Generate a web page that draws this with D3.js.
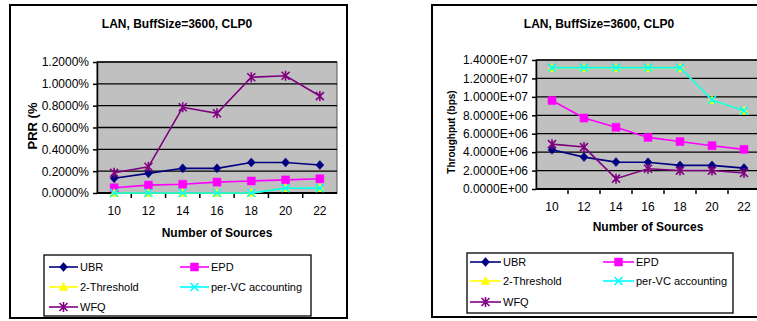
<!DOCTYPE html>
<html>
<head>
<meta charset="utf-8">
<script src="https://cdn.jsdelivr.net/npm/d3@7"></script>
<style>
  body { margin: 0; background: #fff; }
  svg { display: block; font-family: Arial, "Liberation Sans", sans-serif; }
</style>
</head>
<body>
<div id="chart-area"></div>
<script>
// Data
var sources = [10, 12, 14, 16, 18, 20, 22];
var seriesNames = ["UBR", "EPD", "2-Threshold", "per-VC accounting", "WFQ"];

// PRR (%) panel
var prrUBR   = [0.135, 0.18, 0.226, 0.226, 0.28, 0.28, 0.256];
var prrEPD   = [0.048, 0.072, 0.08, 0.10, 0.11, 0.12, 0.13];
var prr2Thr  = [0, 0, 0, 0, 0, 0.045, 0.045];
var prrPerVC = [0, 0, 0, 0, 0, 0.045, 0.045];
var prrWFQ   = [0.186, 0.24, 0.785, 0.73, 1.06, 1.074, 0.888];
var prrTicks = ["0.0000%", "0.2000%", "0.4000%", "0.6000%", "0.8000%", "1.0000%", "1.2000%"];

// Throughput (bps) panel
var thrUBR   = [4.25e6, 3.46e6, 2.92e6, 2.9e6, 2.56e6, 2.56e6, 2.27e6];
var thrEPD   = [9.6e6, 7.7e6, 6.7e6, 5.6e6, 5.15e6, 4.7e6, 4.3e6];
var thr2Thr  = [13.17e6, 13.17e6, 13.17e6, 13.17e6, 13.17e6, 9.67e6, 8.5e6];
var thrPerVC = [13.17e6, 13.17e6, 13.17e6, 13.17e6, 13.17e6, 9.67e6, 8.5e6];
var thrWFQ   = [4.87e6, 4.55e6, 1.12e6, 2.2e6, 2.0e6, 2.0e6, 1.73e6];
var thrTicks = ["0.0000E+00", "2.0000E+06", "4.0000E+06", "6.0000E+06", "8.0000E+06",
                "1.0000E+07", "1.2000E+07", "1.4000E+07"];

var colors = ["#000080", "#ff00ff", "#ffff00", "#00ffff", "#800080"];
var markers = ["diamond", "square", "triangle", "cross", "star"];

var svg = d3.select("#chart-area")
    .append("svg")
    .attr("width", 757)
    .attr("height", 321);

function markerPath(type) {
    if (type == "diamond") return "M0,-4.5L4,0L0,4.5L-4,0Z";
    if (type == "square") return "M-4,-4H4V4H-4Z";
    if (type == "triangle") return "M0,-4.5L4.5,3.5H-4.5Z";
    if (type == "cross") return "M-4,-4L4,4M4,-4L-4,4";
    return "M-4,-4L4,4M4,-4L-4,4M0,-5V5";
}

function drawPanel(cfg) {
    var box = svg.append("g");

    // outer chart frame
    box.append("rect")
        .attr("x", cfg.frame[0]).attr("y", cfg.frame[1])
        .attr("width", cfg.frame[2]).attr("height", cfg.frame[3])
        .attr("fill", "#fff").attr("stroke", "#000").attr("stroke-width", 2);

    box.append("text")
        .attr("x", cfg.titleX).attr("y", 28)
        .attr("text-anchor", "middle")
        .attr("font-size", "12px").attr("font-weight", "bold")
        .text("LAN, BuffSize=3600, CLP0");

    var p = cfg.plot;
    var x = d3.scaleBand().domain(sources).range([p.left, p.right]);
    var y = d3.scaleLinear().domain([0, cfg.yMax]).range([p.bottom, p.top]);

    box.append("rect")
        .attr("x", p.left).attr("y", p.top)
        .attr("width", p.right - p.left).attr("height", p.bottom - p.top)
        .attr("fill", "#c0c0c0").attr("stroke", "#555").attr("stroke-width", 1);

    var tickVals = cfg.ticks.map(function (d, i) { return i * cfg.yStep; });

    // gridlines
    box.selectAll(".grid")
        .data(tickVals.slice(1))
        .enter().append("line")
        .attr("x1", p.left).attr("x2", p.right)
        .attr("y1", function (d) { return y(d); })
        .attr("y2", function (d) { return y(d); })
        .attr("stroke", "#000").attr("stroke-width", 1.3);

    // Y axis
    var yAxis = d3.axisLeft(y)
        .tickValues(tickVals)
        .tickFormat(function (d, i) { return cfg.ticks[i]; })
        .tickSize(4).tickSizeOuter(0).tickPadding(4);
    var yg = box.append("g")
        .attr("transform", "translate(" + p.left + ",0)")
        .call(yAxis);
    yg.selectAll("text").attr("font-size", "12px").attr("fill", "#000")
        .attr("font-family", "Arial, 'Liberation Sans', sans-serif");
    yg.selectAll("line, path").attr("stroke", "#000").attr("stroke-width", 1.5);

    // X axis: ticks on category boundaries
    var xg = box.append("g")
        .attr("transform", "translate(0," + p.bottom + ")");
    xg.append("line")
        .attr("x1", p.left).attr("x2", p.right)
        .attr("stroke", "#000").attr("stroke-width", 2);
    xg.selectAll(".bt")
        .data(sources.slice(1))
        .enter().append("line")
        .attr("x1", function (d) { return x(d); })
        .attr("x2", function (d) { return x(d); })
        .attr("y1", 0).attr("y2", 5)
        .attr("stroke", "#000").attr("stroke-width", 1.5);
    xg.selectAll(".lbl")
        .data(sources)
        .enter().append("text")
        .attr("x", function (d) { return x(d) + x.bandwidth() / 2; })
        .attr("y", 22)
        .attr("text-anchor", "middle")
        .attr("font-size", "12px")
        .text(function (d) { return d; });

    box.append("text")
        .attr("x", cfg.xTitle[0]).attr("y", cfg.xTitle[1])
        .attr("text-anchor", "middle")
        .attr("font-size", "12px").attr("font-weight", "bold")
        .text("Number of Sources");

    box.append("text")
        .attr("transform", "translate(" + cfg.yTitle[0] + "," + cfg.yTitle[1] + ") rotate(-90)")
        .attr("text-anchor", "middle")
        .attr("font-size", cfg.yTitleSize).attr("font-weight", "bold")
        .text(cfg.yLabel);

    // series
    var line = d3.line()
        .x(function (d, i) { return x(sources[i]) + x.bandwidth() / 2; })
        .y(function (d) { return y(d); });

    cfg.series.forEach(function (vals, s) {
        box.append("path")
            .datum(vals)
            .attr("d", line)
            .attr("fill", "none")
            .attr("stroke", colors[s]).attr("stroke-width", 1.6);
        box.selectAll(".m" + s)
            .data(vals)
            .enter().append("path")
            .attr("transform", function (d, i) {
                return "translate(" + (x(sources[i]) + x.bandwidth() / 2) + "," + y(d) + ")";
            })
            .attr("d", markerPath(markers[s]))
            .attr("fill", colors[s])
            .attr("stroke", colors[s])
            .attr("stroke-width", markers[s] == "cross" || markers[s] == "star" ? 1.6 : 0.5);
    });

    // legend
    var L = cfg.legend;
    box.append("rect")
        .attr("x", L.x).attr("y", L.y).attr("width", L.w).attr("height", L.h)
        .attr("fill", "#fff").attr("stroke", "#000").attr("stroke-width", 1.3);
    seriesNames.forEach(function (name, s) {
        var col = s % 2, row = Math.floor(s / 2);
        var lx = L.cols[col], ly = L.rows[row];
        var item = box.append("g").attr("transform", "translate(" + lx + "," + ly + ")");
        item.append("line")
            .attr("x1", 0).attr("x2", L.lineW)
            .attr("stroke", colors[s]).attr("stroke-width", 1.6);
        item.append("path")
            .attr("transform", "translate(" + (L.lineW / 2) + ",0)")
            .attr("d", markerPath(markers[s]))
            .attr("fill", colors[s]).attr("stroke", colors[s])
            .attr("stroke-width", markers[s] == "cross" || markers[s] == "star" ? 1.6 : 0.5);
        item.append("text")
            .attr("x", L.lineW + 2).attr("y", 4)
            .attr("font-size", "11px")
            .text(name);
    });
}

drawPanel({
    frame: [10, 5, 337, 313],
    titleX: 177,
    plot: {left: 97, right: 337, top: 62, bottom: 193},
    yMax: 1.2, yStep: 0.2, ticks: prrTicks,
    xTitle: [217, 237],
    yTitle: [37, 126], yLabel: "PRR (%", yTitleSize: "13px",
    series: [prrUBR, prrEPD, prr2Thr, prrPerVC, prrWFQ],
    legend: {x: 44, y: 255, w: 267, h: 61, cols: [49, 180], rows: [267, 287, 307], lineW: 29}
});

drawPanel({
    frame: [432, 5, 340, 312],
    titleX: 599,
    plot: {left: 536, right: 760, top: 60, bottom: 189},
    yMax: 1.4e7, yStep: 2e6, ticks: thrTicks,
    xTitle: [648, 231],
    yTitle: [455, 132], yLabel: "Throughput (bps)", yTitleSize: "10px",
    series: [thrUBR, thrEPD, thr2Thr, thrPerVC, thrWFQ],
    legend: {x: 467, y: 253, w: 266, h: 60, cols: [470, 603], rows: [262, 281, 302], lineW: 31}
});
</script>
</body>
</html>
